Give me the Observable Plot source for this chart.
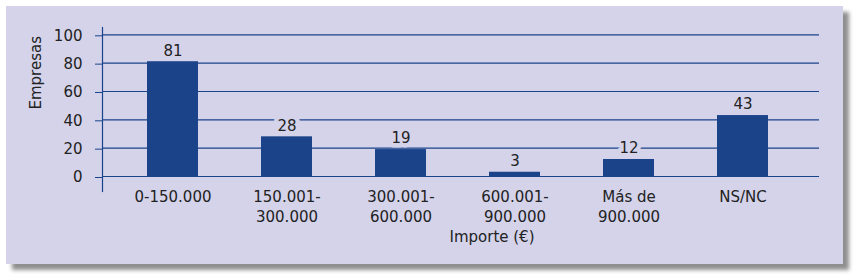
<!DOCTYPE html>
<html>
<head>
<meta charset="utf-8">
<script src="https://cdn.jsdelivr.net/npm/d3@7"></script>
<script src="https://cdn.jsdelivr.net/npm/@observablehq/plot@0.6"></script>
<style>
  html, body { margin: 0; padding: 0; background: #ffffff; }
  #panel {
    position: absolute; left: 6px; top: 6px; width: 837px; height: 258px;
    background: #d4d3ea;
    box-shadow: 6px 6px 4px #8f8f8f;
  }
  #panel svg { display: block; }
</style>
</head>
<body>
<div id="panel"></div>
<script>
const categories = ["0-150.000", "150.001-\n300.000", "300.001-\n600.000", "600.001-\n900.000", "Más de\n900.000", "NS/NC"];
const values = [81, 28, 19, 3, 12, 43];
const yTicks = [0, 20, 40, 60, 80, 100];
const yLabel = "Empresas";
const xLabel = "Importe (€)";

const data = categories.map((c, i) => ({cat: c, value: values[i]}));
const blue = "#1a438a";
const bg = "#d4d3ea";
const font = "DejaVu Sans, sans-serif";

const chart = Plot.plot({
  width: 837,
  height: 258,
  marginLeft: 96,
  marginRight: 24,
  marginTop: 21,
  marginBottom: 73,
  style: {background: "transparent", fontFamily: font, fontSize: "15px", color: "#222"},
  x: {domain: categories, range: [109, 794], paddingInner: 0.553, paddingOuter: 0.2765, label: null},
  y: {domain: [0, 100], range: [170, 28.3], label: null},
  marks: [
    Plot.ruleY(yTicks, {stroke: blue, strokeWidth: 1.2}),
    Plot.frame({anchor: "left", stroke: blue, strokeWidth: 1.2}),
    Plot.axisY({ticks: yTicks, tickSize: 7, tickPadding: 13, dy: 1, stroke: blue, strokeOpacity: 1, fill: "#222", fontSize: 15, label: null}),
    Plot.axisX({tickSize: 0, tickPadding: 3, dy: -7, fill: "#222", fontSize: 15, lineHeight: 1.33, label: null}),
    Plot.text(data, {x: "cat", y: "value", text: d => String(d.value), dy: -11, fill: "#222", fontSize: 15, stroke: bg, strokeWidth: 9, paintOrder: "stroke"}),
    Plot.barY(data, {x: "cat", y: "value", fill: blue}),
    Plot.text([yLabel], {frameAnchor: "left", text: d => d, rotate: -90, dx: -66, fill: "#222", fontSize: 15}),
    Plot.text([xLabel], {frameAnchor: "bottom", text: d => d, dx: 31, dy: 46, lineAnchor: "middle", fill: "#222", fontSize: 15})
  ]
});
document.getElementById("panel").appendChild(chart);
</script>
</body>
</html>
